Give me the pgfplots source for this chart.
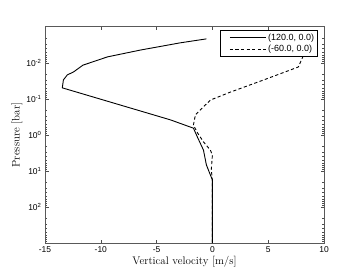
\documentclass[border=0pt]{standalone}
\usepackage{fontspec}
\newfontfamily\helv{Liberation Sans}
\usepackage{pgfplots}
\pgfplotsset{compat=1.18}
\begin{document}
\begin{tikzpicture}[x=1bp,y=1bp]
\useasboundingbox (-45bp,-27bp) rectangle (315bp,243bp);
\begin{axis}[
  scale only axis,
  width=279bp, height=216bp,
  at={(0,0)}, anchor=south west,
  xmin=-15, xmax=10,
  ymode=log, ymin=1e-3, ymax=1e3, y dir=reverse,
  axis line style={draw=gray!70!black, line width=1pt},
  every tick/.style={draw=gray!60!black, line width=0.4pt},
  major tick length=3.5bp, minor tick length=1.8bp,
  xtick={-15,-10,-5,0,5,10},
  xticklabels={-15,-10,-5,0,5,10},
  ytick={1e-2,1e-1,1,1e1,1e2},
  yticklabels={10\textsuperscript{-2},10\textsuperscript{-1},10\textsuperscript{0},10\textsuperscript{1},10\textsuperscript{2}},
  minor ytick={2e-3,3e-3,4e-3,5e-3,6e-3,7e-3,8e-3,9e-3,
    2e-2,3e-2,4e-2,5e-2,6e-2,7e-2,8e-2,9e-2,
    2e-1,3e-1,4e-1,5e-1,6e-1,7e-1,8e-1,9e-1,
    2,3,4,5,6,7,8,9,
    20,30,40,50,60,70,80,90,
    200,300,400,500,600,700,800,900},
  ticklabel style={font=\helv\fontsize{8.5}{9}\selectfont},
  /pgf/number format/assume math mode=true,
  xlabel={Vertical velocity [m/s]},
  ylabel={Pressure [bar]},
  label style={font=\fontsize{11}{12}\selectfont},
  xlabel style={yshift=3bp},
  ylabel style={yshift=-3bp},
  legend style={at={(0.978,0.986)}, anchor=north east,
    font=\helv\fontsize{9}{10}\selectfont, draw=black, line width=0.6pt,
    inner sep=1.5bp, row sep=-0.5pt, fill=white},
  legend cell align=left,
  legend image code/.code={\path (0bp,0bp); \draw[#1] (8bp,0bp) -- (44bp,0bp);},
]
\addplot[black, line width=0.9pt] coordinates {
(-0.54,0.00214) (-2.87,0.00275) (-6.45,0.00437) (-9.4,0.00676)
(-11.6,0.01148) (-12.45,0.01778) (-13.0,0.0214) (-13.35,0.0295)
(-13.45,0.049) (-3.76,0.380) (-1.7,0.646) (-1.34,1.148)
(-0.8,2.63) (-0.54,6.76) (-0.36,9.33) (0,17.8) (0,1000)};
\addlegendentry{(120.0, 0.0)}
\addplot[black, line width=0.9pt, dash pattern=on 3.2bp off 2.4bp] coordinates {
(8.3,0.0045) (8.1,0.00676) (7.7,0.0129) (4.6,0.0295) (1.6,0.0646)
(-0.18,0.107) (-1.1,0.204) (-1.52,0.275) (-1.7,0.525)
(-1.34,0.871) (-0.8,1.55) (-0.18,2.63) (0,3.63) (-0.1,9.33)
(0,17.8) (0,1000)};
\addlegendentry{(-60.0, 0.0)}
\end{axis}
\end{tikzpicture}
\end{document}
